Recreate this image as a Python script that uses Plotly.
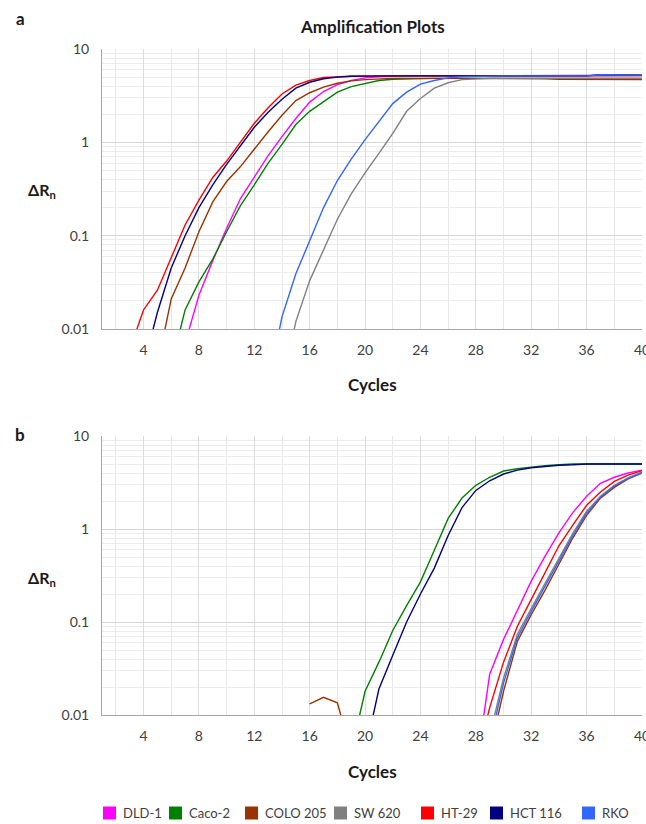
import plotly.graph_objects as go

# ---------------- data ----------------
series_names = ["DLD-1", "Caco-2", "COLO 205", "SW 620", "HT-29", "HCT 116", "RKO"]
series_colors = ["#FF00FF", "#008000", "#993300", "#808080", "#FF0000", "#000080", "#3366FF"]

x_tick_vals = [4, 8, 12, 16, 20, 24, 28, 32, 36, 40]
x_tick_text = ["4", "8", "12", "16", "20", "24", "28", "32", "36", "40"]
y_tick_vals = [0.01, 0.1, 1, 10]
y_tick_text = ["0.01", "0.1", "1", "10"]

# Panel a (first cycle shown, then one value per cycle up to cycle 40)
a_dld1_start = 7
a_dld1 = [0.007, 0.023, 0.054, 0.12, 0.25, 0.43, 0.72, 1.15, 1.8, 2.7, 3.5, 4.15, 4.6, 4.9,
          5.05, 5.1, 5.15, 5.15, 5.15, 5.15, 5.15, 5.15, 5.15, 5.15, 5.15, 5.15, 5.15, 5.15,
          5.15, 5.15, 5.2, 5.2, 5.2, 5.2]
a_caco2_start = 6
a_caco2 = [0.004, 0.016, 0.032, 0.056, 0.11, 0.21, 0.35, 0.6, 0.95, 1.55, 2.15, 2.75, 3.45,
           3.95, 4.3, 4.6, 4.75, 4.8, 4.85, 4.85, 4.85, 4.85, 4.85, 4.85, 4.85, 4.85, 4.85,
           4.85, 4.85, 4.85, 4.85, 4.85, 4.85, 4.85, 4.85]
a_colo205_start = 5
a_colo205 = [0.004, 0.021, 0.045, 0.11, 0.23, 0.38, 0.55, 0.85, 1.3, 1.95, 2.8, 3.4, 3.9, 4.3,
             4.55, 4.7, 4.8, 4.85, 4.85, 4.85, 4.85, 4.85, 4.85, 4.85, 4.85, 4.85, 4.8, 4.8,
             4.8, 4.75, 4.75, 4.75, 4.7, 4.7, 4.7, 4.7]
a_sw620_start = 14
a_sw620 = [0.0025, 0.012, 0.033, 0.071, 0.15, 0.28, 0.47, 0.76, 1.25, 2.15, 2.95, 3.8, 4.35,
           4.7, 4.8, 4.85, 4.85, 4.85, 4.85, 4.85, 4.85, 4.85, 4.85, 4.85, 4.85, 4.85, 4.85]
a_ht29_start = 3
a_ht29 = [0.006, 0.016, 0.026, 0.057, 0.13, 0.24, 0.42, 0.63, 1.0, 1.6, 2.35, 3.3, 4.1, 4.6,
          4.95, 5.05, 5.1, 5.12, 5.15, 5.15, 5.15, 5.15, 5.15, 5.15, 5.15, 5.15, 5.15, 5.15,
          5.15, 5.15, 5.15, 5.15, 5.15, 5.15, 5.2, 5.2, 5.2, 5.2]
a_hct116_start = 4
a_hct116 = [0.004, 0.015, 0.045, 0.1, 0.2, 0.35, 0.58, 0.92, 1.45, 2.1, 2.9, 3.8, 4.4, 4.8,
            5.0, 5.1, 5.15, 5.15, 5.15, 5.15, 5.15, 5.15, 5.15, 5.15, 5.15, 5.15, 5.15, 5.15,
            5.15, 5.15, 5.15, 5.15, 5.15, 5.3, 5.3, 5.25, 5.25]
a_rko_start = 13
a_rko = [0.0025, 0.0135, 0.039, 0.089, 0.2, 0.39, 0.66, 1.07, 1.66, 2.6, 3.45, 4.2, 4.6, 4.9,
         5.05, 5.1, 5.15, 5.15, 5.15, 5.15, 5.15, 5.15, 5.15, 5.15, 5.3, 5.3, 5.25, 5.25]

# Panel b
b_dld1_start = 28
b_dld1 = [0.0025, 0.0275, 0.065, 0.135, 0.275, 0.51, 0.91, 1.5, 2.25, 3.1, 3.6, 4.0, 4.3]
b_caco2_start = 19
b_caco2 = [0.004, 0.018, 0.037, 0.081, 0.15, 0.27, 0.59, 1.3, 2.15, 2.95, 3.6, 4.2, 4.45,
           4.65, 4.8, 4.9, 5.0, 5.0, 5.0, 5.0, 5.0, 5.0]
b_colo205_start = 16
b_colo205 = [0.0132, 0.0155, 0.0135, 0.004, None, None, None, None, None, None, None, None,
             None, 0.004, 0.018, 0.062, 0.12, 0.22, 0.42, 0.8, 1.4, 2.15, 2.8, 3.45, 4.0]
b_sw620_start = 28
b_sw620 = [0.002, 0.006, 0.025, 0.074, 0.14, 0.26, 0.49, 0.9, 1.55, 2.25, 2.95, 3.55, 4.1]
b_ht29_start = 28
b_ht29 = [0.003, 0.012, 0.037, 0.09, 0.175, 0.34, 0.66, 1.1, 1.8, 2.5, 3.25, 3.8, 4.25]
b_hct116_start = 20
b_hct116 = [0.004, 0.019, 0.044, 0.1, 0.2, 0.38, 0.85, 1.7, 2.6, 3.3, 3.9, 4.3, 4.55, 4.7,
            4.85, 4.9, 5.0, 5.0, 5.0, 5.0, 5.0]
b_rko_start = 28
b_rko = [0.002, 0.005, 0.022, 0.068, 0.13, 0.245, 0.46, 0.85, 1.48, 2.2, 2.9, 3.5, 4.0]

panel_a = [(a_dld1_start, a_dld1), (a_caco2_start, a_caco2), (a_colo205_start, a_colo205),
           (a_sw620_start, a_sw620), (a_ht29_start, a_ht29), (a_hct116_start, a_hct116),
           (a_rko_start, a_rko)]
panel_b = [(b_dld1_start, b_dld1), (b_caco2_start, b_caco2), (b_colo205_start, b_colo205),
           (b_sw620_start, b_sw620), (b_ht29_start, b_ht29), (b_hct116_start, b_hct116),
           (b_rko_start, b_rko)]

# ---------------- layout geometry (pixels; body margin removed after drawing) ----------------
FIG_W, FIG_H = 646, 824
PLOT_L, PLOT_R, PLOT_T, PLOT_B = 102, 642, 49, 715
A_BOTTOM, B_TOP = 329, 436


def px(wx):
    return (wx - PLOT_L) / (PLOT_R - PLOT_L)


def py(wy):
    return (PLOT_B - wy) / (PLOT_B - PLOT_T)


legend_square_left = [103, 169, 245, 334, 421, 490, 582]
legend_y = 813

# ---------------- figure ----------------
fig = go.Figure()

for (start, vals), name, color in zip(panel_a, series_names, series_colors):
    fig.add_trace(go.Scatter(x=list(range(start, start + len(vals))), y=vals, mode="lines",
                             line=dict(color=color, width=1.4), name=name, showlegend=False,
                             xaxis="x", yaxis="y", connectgaps=False))
for (start, vals), name, color in zip(panel_b, series_names, series_colors):
    fig.add_trace(go.Scatter(x=list(range(start, start + len(vals))), y=vals, mode="lines",
                             line=dict(color=color, width=1.4), name=name, showlegend=False,
                             xaxis="x2", yaxis="y2", connectgaps=False))

minor_x = [2, 6, 10, 14, 18, 22, 26, 30, 34, 38]
minor_y = [m * d for d in (0.01, 0.1, 1) for m in range(2, 10)]

FONT = "Lato, Open Sans, sans-serif"
tickfont = dict(family=FONT, size=14, color="#404040")
xaxis_common = dict(range=[1, 40], tickmode="array", tickvals=x_tick_vals, ticktext=x_tick_text,
                    showgrid=True, gridcolor="#dcdcdc", gridwidth=1,
                    minor=dict(tickmode="array", tickvals=minor_x, showgrid=True,
                               gridcolor="#e8e8e8", ticks=""),
                    showline=True, linecolor="#a6a6a6", linewidth=1, ticks="",
                    tickfont=tickfont, ticklabelstandoff=8, ticklabeloverflow="allow",
                    zeroline=False)
yaxis_common = dict(type="log", range=[-2, 1], tickmode="array", tickvals=y_tick_vals,
                    ticktext=y_tick_text, showgrid=True, gridcolor="#d6d6d6", gridwidth=1,
                    minor=dict(tickmode="array", tickvals=minor_y, showgrid=True,
                               gridcolor="#ececec", ticks=""),
                    showline=True, linecolor="#a6a6a6", linewidth=1, ticks="",
                    tickfont=tickfont, ticklabelstandoff=9, zeroline=False)

fig.update_layout(
    width=FIG_W, height=FIG_H,
    margin=dict(l=PLOT_L, r=FIG_W - PLOT_R, t=PLOT_T, b=FIG_H - PLOT_B, autoexpand=False),
    paper_bgcolor="white", plot_bgcolor="white",
    font=dict(family=FONT, color="#404040"),
    xaxis=dict(xaxis_common, domain=[0, 1], anchor="y"),
    yaxis=dict(yaxis_common, domain=[py(A_BOTTOM), 1], anchor="x"),
    xaxis2=dict(xaxis_common, domain=[0, 1], anchor="y2"),
    yaxis2=dict(yaxis_common, domain=[0, py(B_TOP)], anchor="x2"),
    showlegend=False,
)

ann_font = dict(family=FONT, color="#1a1a1a")
annotations = [
    dict(text="<b>Amplification Plots</b>", x=px(372), y=py(27), font=dict(ann_font, size=17)),
    dict(text="<b>a</b>", x=px(20), y=py(18), font=dict(ann_font, size=17)),
    dict(text="<b>b</b>", x=px(20), y=py(435), font=dict(ann_font, size=17)),
    dict(text="<b>ΔR<sub>n</sub></b>", x=px(42), y=py(191), font=dict(ann_font, size=16)),
    dict(text="<b>ΔR<sub>n</sub></b>", x=px(42), y=py(578), font=dict(ann_font, size=16)),
    dict(text="<b>Cycles</b>", x=px(372), y=py(384), font=dict(ann_font, size=17)),
    dict(text="<b>Cycles</b>", x=px(372), y=py(771), font=dict(ann_font, size=17)),
]
for a in annotations:
    a.update(xanchor="center")

# legend: colour squares with series names
shapes = []
for left, name, color in zip(legend_square_left, series_names, series_colors):
    shapes.append(dict(type="rect", xref="paper", yref="paper",
                       x0=px(left), x1=px(left + 13), y0=py(legend_y + 6.5), y1=py(legend_y - 6.5),
                       fillcolor=color, line=dict(width=0)))
    annotations.append(dict(text=name, x=px(left + 18), y=py(legend_y), xanchor="left",
                            font=dict(family=FONT, size=13, color="#404040")))

for a in annotations:
    a.update(xref="paper", yref="paper", showarrow=False, yanchor="middle")
fig.update_layout(annotations=annotations, shapes=shapes)

fig.write_html("out.html", config={"displayModeBar": False, "staticPlot": True},
               post_script="document.body.style.margin='0px';")
